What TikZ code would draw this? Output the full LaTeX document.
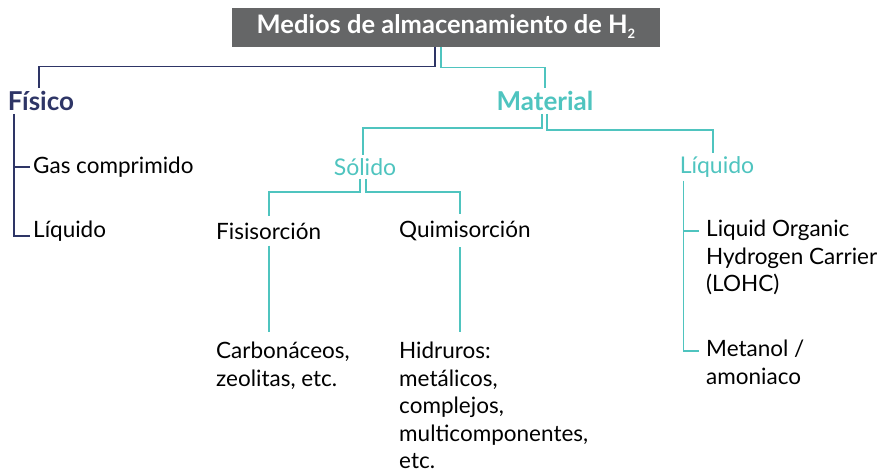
\documentclass[tikz,border=0pt]{standalone}
\usepackage{fontspec}
\setmainfont{Lato}
\definecolor{navyline}{HTML}{2E3566}
\definecolor{aqua}{HTML}{4FC4BF}
\definecolor{boxgray}{HTML}{656667}
\tikzset{
    leaf/.style={anchor=west, inner sep=0pt, align=left, font=\fontsize{22.5}{27.5}\selectfont},
    block/.style={anchor=north west, inner sep=0pt, align=left, font=\fontsize{22.5}{27.5}\selectfont},
    sub/.style={text=aqua, inner sep=3pt, font=\fontsize{23}{23}\selectfont},
    head/.style={inner sep=3pt, font=\bfseries\fontsize{26}{26}\selectfont},
    navyedge/.style={draw=navyline, line width=1.5pt},
    aquaedge/.style={draw=aqua, line width=1.5pt},
}
\begin{document}
\begin{tikzpicture}[x=1pt, y=-1pt]
    \useasboundingbox (0,0) rectangle (880,474);
    % Root
        \node[fill=boxgray, text=white, minimum width=428pt, minimum height=39pt, inner sep=0pt,
            font=\bfseries\fontsize{25.5}{25.5}\selectfont] (root) at (446,27)
            {Medios de almacenamiento de H\raisebox{-5pt}{\fontsize{13}{13}\selectfont 2}};
    % Branches
        \node[head, text=navyline] (fisico) at (41,101) {Físico};
        \node[head, text=aqua] (material) at (545,101) {Material};
        \node[leaf] (gas) at (33,167) {Gas comprimido};
        \node[leaf] (liqf) at (33,231) {Líquido};
        \node[sub] (solido) at (365,167) {Sólido};
        \node[sub] (liqm) at (717,167) {Líquido};
        \node[leaf] (fisi) at (216,231) {Fisisorción};
        \node[leaf] (quimi) at (399,231) {Quimisorción};
        \node[block] (carbo) at (216,342) {Carbonáceos,\\zeolitas, etc.};
        \node[block] (hidr) at (399,342) {Hidruros:\\metálicos,\\complejos,\\multicomponentes,\\etc.};
        \node[block] (lohc) at (706,220) {Liquid Organic\\Hydrogen Carrier\\(LOHC)};
        \node[block] (metanol) at (706,340) {Metanol /\\amoniaco};
    % Connectors
        \draw[navyedge] ([xshift=-11pt]root.south) -- ++(0,20) -| ([xshift=-2pt]fisico.north);
        \draw[aquaedge] ([xshift=-5pt]root.south) -- ++(0,21) -| (material.north);
        \coordinate (fstem) at ([xshift=9pt]fisico.south west);
        \draw[navyedge] (fstem) |- ([xshift=-3pt,yshift=-5pt]liqf.west);
        \draw[navyedge] (fstem |- gas.west) -- ([xshift=-3pt]gas.west);
        \coordinate (fisitop) at ([xshift=53pt,yshift=7pt]fisi.north west);
        \coordinate (quimitop) at ([xshift=61pt,yshift=7pt]quimi.north west);
        \draw[aquaedge] ([xshift=-3pt]material.south) -- ++(0,14) -| ([xshift=-2pt]solido.north);
        \draw[aquaedge] ([xshift=2pt]material.south) -- ++(0,16) -| ([xshift=-4pt]liqm.north);
        \draw[aquaedge] ([xshift=-5pt]solido.south) -- ++(0,13) -| (fisitop);
        \draw[aquaedge] ([xshift=1pt]solido.south) -- ++(0,13) -| (quimitop);
        \draw[aquaedge] ([yshift=-6pt]fisitop |- fisi.south) -- ([yshift=10pt]fisitop |- carbo.north);
        \draw[aquaedge] ([yshift=-6pt]quimitop |- quimi.south) -- ([yshift=10pt]quimitop |- hidr.north);
        \coordinate (lstem) at ([xshift=7pt]liqm.south west);
        \coordinate (lohctick) at ([xshift=-7pt,yshift=-11pt]lohc.north west);
        \coordinate (metanoltick) at ([xshift=-7pt,yshift=-11pt]metanol.north west);
        \draw[aquaedge] (lstem) |- (metanoltick);
        \draw[aquaedge] (lstem |- lohctick) -- (lohctick);
\end{tikzpicture}
\end{document}
